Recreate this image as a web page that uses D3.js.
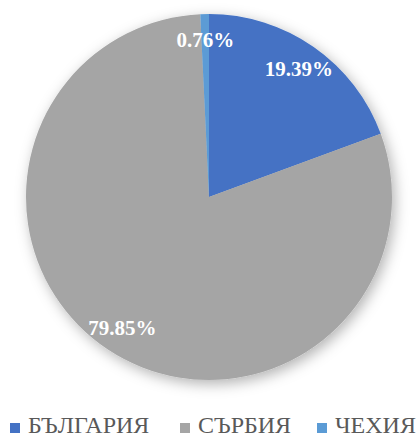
<!DOCTYPE html>
<html><head><meta charset="utf-8">
<script src="https://cdn.jsdelivr.net/npm/d3@7"></script>
<style>body{margin:0;background:#fff}svg{display:block}text{font-family:'Liberation Serif','Times New Roman',serif}</style>
</head><body>
<script>
const categories = ["БЪЛГАРИЯ", "СЪРБИЯ", "ЧЕХИЯ"];
const values = [19.39, 79.85, 0.76];
const colors = ["#4472C4", "#A5A5A5", "#5B9BD5"];

const W = 417, H = 438, cx = 209, cy = 197, R = 183;
const svg = d3.select("body").append("svg").attr("width", W).attr("height", H);
const defs = svg.append("defs");
const f = defs.append("filter").attr("id","sh").attr("x","-20%").attr("y","-20%").attr("width","140%").attr("height","140%");
f.append("feDropShadow").attr("dx",3).attr("dy",4).attr("stdDeviation",7).attr("flood-color","#000").attr("flood-opacity",0.3);

const data = categories.map((c,i)=>({c, v: values[i], col: colors[i]}));
const pie = d3.pie().value(d=>d.v).sort(null);
const arcs = pie(data);
const arc = d3.arc().innerRadius(0).outerRadius(R);
const g = svg.append("g").attr("transform", `translate(${cx},${cy})`);
const sg = g.append("g").attr("filter","url(#sh)");
sg.selectAll("path").data(arcs).join("path").attr("d", arc).attr("fill", d=>d.data.col);

const lab = d3.arc().innerRadius(157).outerRadius(157);
g.selectAll("text").data(arcs).join("text")
  .attr("transform", d=>`translate(${lab.centroid(d)})`)
  .attr("text-anchor","middle").attr("dy","0.35em")
  .attr("font-weight","bold").attr("font-size",21)
  .attr("fill","#fff")
  .text(d=>d.data.v.toFixed(2)+"%");

const leg = svg.append("g").attr("font-size",24).attr("fill","#595959");
const lx = [10, 180, 317];
data.forEach((d,i)=>{
  leg.append("rect").attr("x",lx[i]).attr("y",423).attr("width",10).attr("height",10).attr("fill",d.col);
  leg.append("text").attr("x",lx[i]+18).attr("y",433).text(d.c);
});
</script>
</body></html>
